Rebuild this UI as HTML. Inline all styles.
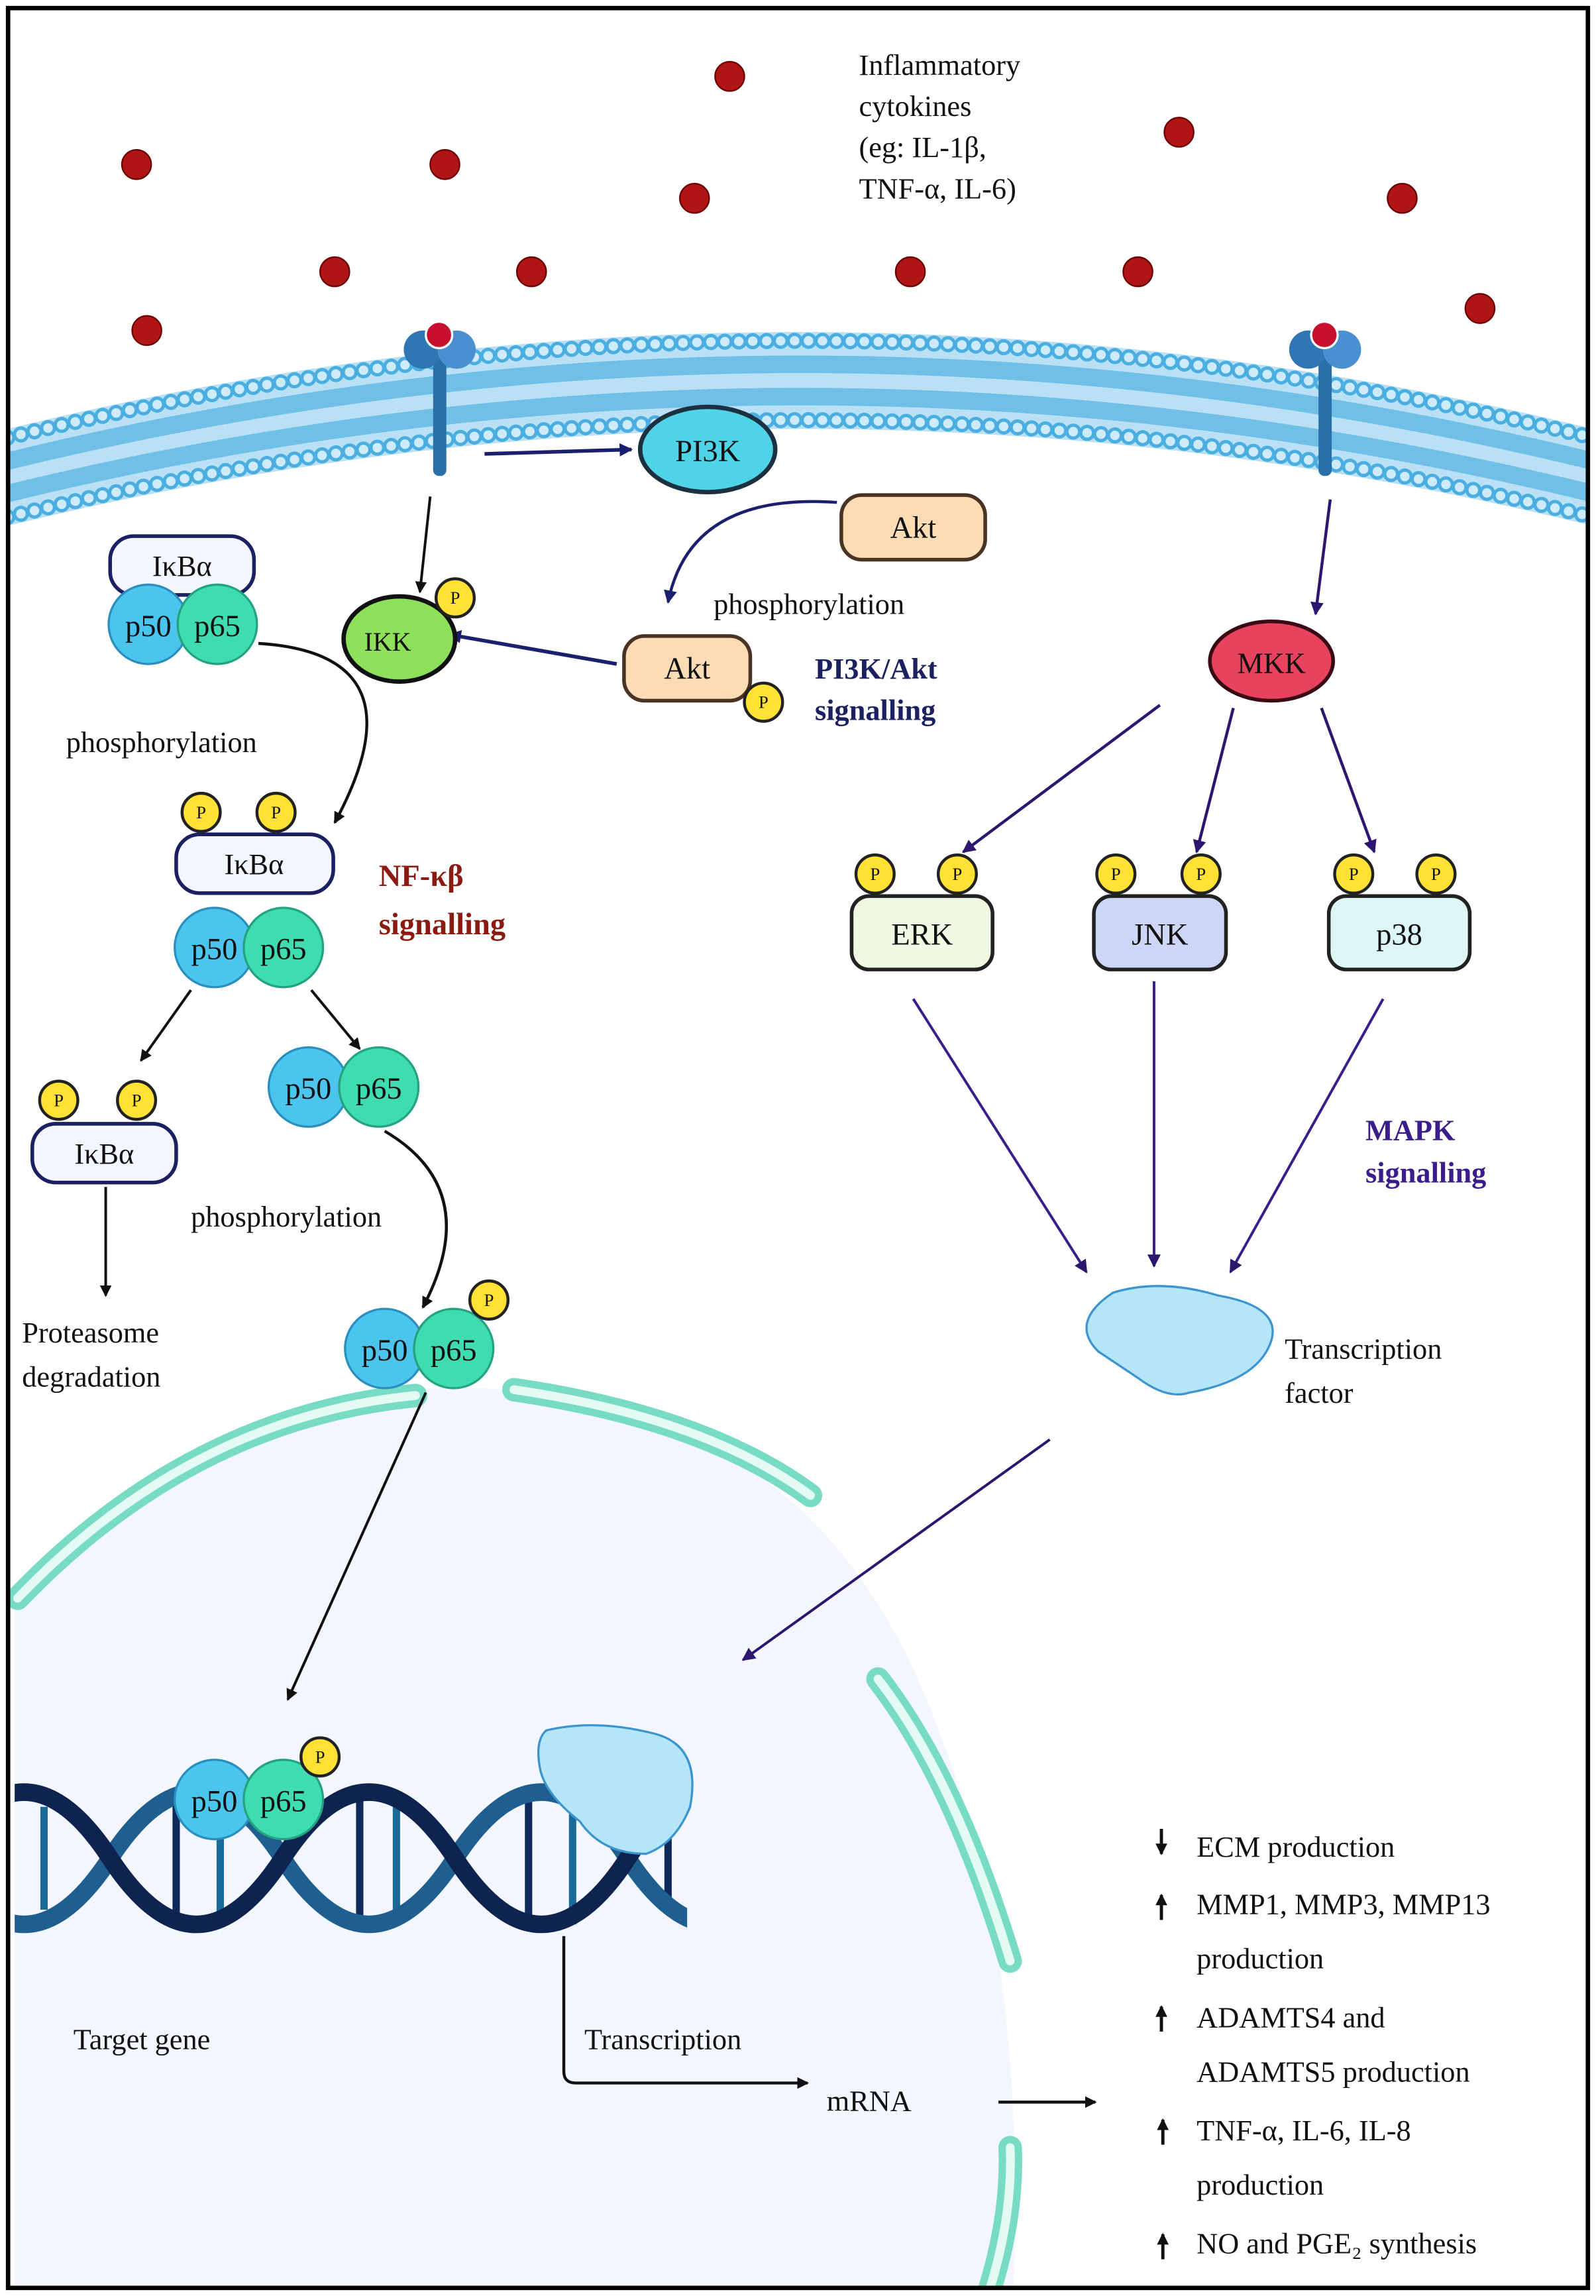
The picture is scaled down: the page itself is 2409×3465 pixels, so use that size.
<!DOCTYPE html>
<html><head><meta charset="utf-8"><style>
html,body{margin:0;padding:0;background:#fff;}
svg{display:block;}
text{font-family:"Liberation Serif",serif;fill:#111;}
</style></head><body>
<svg width="2409" height="3465" viewBox="0 0 1087 1563" preserveAspectRatio="none" xmlns="http://www.w3.org/2000/svg">
<defs>
<marker id="ak" markerWidth="8" markerHeight="8" refX="7" refY="4" orient="auto" markerUnits="userSpaceOnUse"><path d="M0,0 L8,4 L0,8 z" fill="#111"/></marker>
<marker id="an" markerWidth="9" markerHeight="9" refX="8" refY="4.5" orient="auto" markerUnits="userSpaceOnUse"><path d="M0,0 L9,4.5 L0,9 z" fill="#1a1f6e"/></marker>
<marker id="ap" markerWidth="9" markerHeight="9" refX="8" refY="4.5" orient="auto" markerUnits="userSpaceOnUse"><path d="M0,0 L9,4.5 L0,9 z" fill="#2c1670"/></marker>
<clipPath id="dnaclip"><rect x="10" y="1180" width="458" height="150"/></clipPath>
<clipPath id="frame"><rect x="7" y="7" width="1073" height="1549"/></clipPath>
</defs>
<rect x="0" y="0" width="1087" height="1563" fill="#fff"/>
<g clip-path="url(#frame)">
<path d="M10,1090 Q150,940 330,945 Q560,955 640,1180 Q700,1330 690,1563 L10,1563 z" fill="#f3f7fd"/>
<g fill="none" stroke-linecap="round">
<path d="M12,1088 Q130,965 283,950" stroke="#78dcc4" stroke-width="16"/>
<path d="M12,1088 Q130,965 283,950" stroke="#e4faf5" stroke-width="6"/>
<path d="M350,946 Q480,965 552,1018" stroke="#78dcc4" stroke-width="16"/>
<path d="M350,946 Q480,965 552,1018" stroke="#e4faf5" stroke-width="6"/>
<path d="M598,1143 Q650,1210 688,1335" stroke="#78dcc4" stroke-width="16"/>
<path d="M598,1143 Q650,1210 688,1335" stroke="#e4faf5" stroke-width="6"/>
<path d="M688,1462 Q690,1510 672,1565" stroke="#78dcc4" stroke-width="16"/>
<path d="M688,1462 Q690,1510 672,1565" stroke="#e4faf5" stroke-width="6"/>
</g>
<!-- membrane -->
<path d="M5,292 Q545,160 1085,292 L1085,358 Q545,226 5,358 z" fill="#b9e0f5"/>
<g fill="none" stroke-linecap="round">
<path d="M5,314 Q545,182 1085,314" stroke="#6fbfe6" stroke-width="12" stroke-dasharray="1.2 2.6"/>
<path d="M5,336 Q545,204 1085,336" stroke="#6fbfe6" stroke-width="12" stroke-dasharray="1.2 2.6"/>
<path d="M5,298 Q545,166 1085,298" stroke="#4aaee0" stroke-width="11" stroke-dasharray="0 9.5"/>
<path d="M5,298 Q545,166 1085,298" stroke="#cdebfa" stroke-width="6.5" stroke-dasharray="0 9.5"/>
<path d="M5,352 Q545,220 1085,352" stroke="#4aaee0" stroke-width="11" stroke-dasharray="0 9.5"/>
<path d="M5,352 Q545,220 1085,352" stroke="#cdebfa" stroke-width="6.5" stroke-dasharray="0 9.5"/>
</g>
<g fill="#b01515" stroke="#6a0000" stroke-width="1">
<circle cx="497" cy="52" r="10"/><circle cx="93" cy="112" r="10"/><circle cx="303" cy="112" r="10"/>
<circle cx="803" cy="90" r="10"/><circle cx="473" cy="135" r="10"/><circle cx="955" cy="135" r="10"/>
<circle cx="228" cy="185" r="10"/><circle cx="362" cy="185" r="10"/><circle cx="620" cy="185" r="10"/>
<circle cx="775" cy="185" r="10"/><circle cx="1008" cy="210" r="10"/><circle cx="100" cy="225" r="10"/>
</g>
<g font-size="20">
<text x="585" y="51">Inflammatory</text><text x="585" y="79">cytokines</text>
<text x="585" y="107">(eg: IL-1β,</text><text x="585" y="135">TNF-α, IL-6)</text>
</g>
<g>
<rect x="295" y="240" width="9" height="84" rx="4" fill="#2a6fa8"/>
<ellipse cx="288" cy="238" rx="13" ry="13" fill="#2f76b5"/><ellipse cx="311" cy="238" rx="13" ry="13" fill="#4a8fd0"/>
<circle cx="299" cy="228" r="9" fill="#c8102e" stroke="#fff" stroke-width="1.5"/>
<rect x="898" y="240" width="9" height="84" rx="4" fill="#2a6fa8"/>
<ellipse cx="891" cy="238" rx="13" ry="13" fill="#2f76b5"/><ellipse cx="914" cy="238" rx="13" ry="13" fill="#4a8fd0"/>
<circle cx="902" cy="228" r="9" fill="#c8102e" stroke="#fff" stroke-width="1.5"/>
</g>
<line x1="330" y1="309" x2="430" y2="306" stroke="#1a1f6e" stroke-width="2.5" marker-end="url(#an)"/>
<ellipse cx="482" cy="306" rx="46" ry="29" fill="#4fd3e6" stroke="#1b3040" stroke-width="3"/>
<text x="482" y="314" font-size="21" text-anchor="middle">PI3K</text>
<rect x="573" y="337" width="98" height="44" rx="14" fill="#fbdcb5" stroke="#4a3322" stroke-width="2.5"/>
<text x="622" y="366" font-size="21" text-anchor="middle">Akt</text>
<path d="M570,342 Q470,335 455,410" fill="none" stroke="#1a1f6e" stroke-width="2" marker-end="url(#an)"/>
<text x="486" y="418" font-size="20">phosphorylation</text>
<rect x="425" y="433" width="86" height="44" rx="14" fill="#fbdcb5" stroke="#4a3322" stroke-width="2.5"/>
<text x="468" y="462" font-size="21" text-anchor="middle">Akt</text>
<line x1="420" y1="452" x2="306" y2="432" stroke="#1a1f6e" stroke-width="2.5" marker-end="url(#an)"/>
<g font-size="20" font-weight="bold"><text x="555" y="462" style="fill:#1a2060">PI3K/Akt</text><text x="555" y="490" style="fill:#1a2060">signalling</text></g>
<line x1="293" y1="338" x2="286" y2="403" stroke="#111" stroke-width="1.8" marker-end="url(#ak)"/>
<ellipse cx="272" cy="435" rx="38" ry="29" fill="#8ee05a" stroke="#111" stroke-width="3"/>
<text x="264" y="443" font-size="18" text-anchor="middle">IKK</text>
<rect x="75" y="365" width="98" height="40" rx="16" fill="#f4f6ff" stroke="#1a2060" stroke-width="2.5"/>
<text x="124" y="392" font-size="20" text-anchor="middle">IκBα</text>
<circle cx="101" cy="425" r="27" fill="#4cc5ee" stroke="#2a8fbf" stroke-width="1.5"/>
<circle cx="148" cy="425" r="27" fill="#3fdcb0" stroke="#23a380" stroke-width="1.5"/>
<text x="101" y="433" font-size="21" text-anchor="middle">p50</text><text x="148" y="433" font-size="21" text-anchor="middle">p65</text>
<text x="45" y="512" font-size="20">phosphorylation</text>
<path d="M176,438 Q290,445 228,560" fill="none" stroke="#111" stroke-width="2" marker-end="url(#ak)"/>
<rect x="120" y="568" width="107" height="40" rx="16" fill="#f4f6ff" stroke="#1a2060" stroke-width="2.5"/>
<text x="173" y="595" font-size="20" text-anchor="middle">IκBα</text>
<circle cx="146" cy="645" r="27" fill="#4cc5ee" stroke="#2a8fbf" stroke-width="1.5"/>
<circle cx="193" cy="645" r="27" fill="#3fdcb0" stroke="#23a380" stroke-width="1.5"/>
<text x="146" y="653" font-size="21" text-anchor="middle">p50</text><text x="193" y="653" font-size="21" text-anchor="middle">p65</text>
<g font-size="21" font-weight="bold"><text x="258" y="603" style="fill:#8b1a10">NF-κβ</text><text x="258" y="636" style="fill:#8b1a10">signalling</text></g>
<line x1="130" y1="674" x2="96" y2="722" stroke="#111" stroke-width="1.8" marker-end="url(#ak)"/>
<line x1="212" y1="674" x2="245" y2="714" stroke="#111" stroke-width="1.8" marker-end="url(#ak)"/>
<rect x="22" y="765" width="98" height="40" rx="16" fill="#f4f6ff" stroke="#1a2060" stroke-width="2.5"/>
<text x="71" y="792" font-size="20" text-anchor="middle">IκBα</text>
<line x1="72" y1="808" x2="72" y2="882" stroke="#111" stroke-width="1.8" marker-end="url(#ak)"/>
<text x="15" y="914" font-size="20">Proteasome</text><text x="15" y="944" font-size="20">degradation</text>
<circle cx="210" cy="740" r="27" fill="#4cc5ee" stroke="#2a8fbf" stroke-width="1.5"/>
<circle cx="258" cy="740" r="27" fill="#3fdcb0" stroke="#23a380" stroke-width="1.5"/>
<text x="210" y="748" font-size="21" text-anchor="middle">p50</text><text x="258" y="748" font-size="21" text-anchor="middle">p65</text>
<text x="130" y="835" font-size="20">phosphorylation</text>
<path d="M262,770 Q330,810 288,890" fill="none" stroke="#111" stroke-width="2" marker-end="url(#ak)"/>
<circle cx="262" cy="918" r="27" fill="#4cc5ee" stroke="#2a8fbf" stroke-width="1.5"/>
<circle cx="309" cy="918" r="27" fill="#3fdcb0" stroke="#23a380" stroke-width="1.5"/>
<text x="262" y="926" font-size="21" text-anchor="middle">p50</text><text x="309" y="926" font-size="21" text-anchor="middle">p65</text>
<line x1="290" y1="948" x2="196" y2="1157" stroke="#111" stroke-width="1.8" marker-end="url(#ak)"/>
<line x1="906" y1="340" x2="896" y2="418" stroke="#2c1670" stroke-width="2" marker-end="url(#ap)"/>
<ellipse cx="866" cy="450" rx="42" ry="27" fill="#e8435e" stroke="#3a0a14" stroke-width="2.5"/>
<text x="866" y="458" font-size="20" text-anchor="middle">MKK</text>
<line x1="790" y1="480" x2="656" y2="580" stroke="#2c1670" stroke-width="2" marker-end="url(#ap)"/>
<line x1="840" y1="482" x2="815" y2="580" stroke="#2c1670" stroke-width="2" marker-end="url(#ap)"/>
<line x1="900" y1="482" x2="936" y2="580" stroke="#2c1670" stroke-width="2" marker-end="url(#ap)"/>
<rect x="580" y="610" width="96" height="50" rx="12" fill="#eef8e2" stroke="#222" stroke-width="2.5"/>
<text x="628" y="643" font-size="21" text-anchor="middle">ERK</text>
<rect x="745" y="610" width="90" height="50" rx="12" fill="#cdd6f5" stroke="#222" stroke-width="2.5"/>
<text x="790" y="643" font-size="21" text-anchor="middle">JNK</text>
<rect x="905" y="610" width="96" height="50" rx="12" fill="#dcf7f6" stroke="#222" stroke-width="2.5"/>
<text x="953" y="643" font-size="21" text-anchor="middle">p38</text>
<line x1="622" y1="680" x2="740" y2="866" stroke="#3a1d8a" stroke-width="1.8" marker-end="url(#ap)"/>
<line x1="786" y1="668" x2="786" y2="862" stroke="#3a1d8a" stroke-width="1.8" marker-end="url(#ap)"/>
<line x1="942" y1="680" x2="838" y2="866" stroke="#3a1d8a" stroke-width="1.8" marker-end="url(#ap)"/>
<g font-size="20" font-weight="bold"><text x="930" y="776" style="fill:#3a1d8a">MAPK</text><text x="930" y="805" style="fill:#3a1d8a">signalling</text></g>
<path d="M758,880 Q790,870 830,882 Q875,890 865,915 Q855,940 810,948 Q795,953 775,938 Q760,928 748,920 Q728,900 758,880 z" fill="#b5e6f8" stroke="#3d95cf" stroke-width="1.5"/>
<g font-size="20"><text x="875" y="925">Transcription</text><text x="875" y="955">factor</text></g>
<line x1="715" y1="980" x2="506" y2="1130" stroke="#2c1670" stroke-width="1.8" marker-end="url(#ap)"/>
<g clip-path="url(#dnaclip)">
<g stroke-width="5">
<line x1="30" y1="1230" x2="30" y2="1300" stroke="#1a6b9a"/><line x1="120" y1="1220" x2="120" y2="1310" stroke="#0f2a5a"/>
<line x1="150" y1="1220" x2="150" y2="1310" stroke="#1a6b9a"/><line x1="245" y1="1225" x2="245" y2="1305" stroke="#0f2a5a"/>
<line x1="270" y1="1225" x2="270" y2="1305" stroke="#1a6b9a"/><line x1="360" y1="1220" x2="360" y2="1310" stroke="#0f2a5a"/>
<line x1="390" y1="1220" x2="390" y2="1310" stroke="#1a6b9a"/><line x1="455" y1="1230" x2="455" y2="1300" stroke="#0f2a5a"/>
</g>
<path d="M-42.5,1265 Q16.25,1355 75,1265 T192.5,1265 T310,1265 T427.5,1265 T545,1265" fill="none" stroke="#1f5f8f" stroke-width="12"/>
<path d="M-42.5,1265 Q16.25,1175 75,1265 T192.5,1265 T310,1265 T427.5,1265 T545,1265" fill="none" stroke="#0e2350" stroke-width="12"/>
</g>
<path d="M372,1178 Q405,1170 445,1180 Q478,1188 470,1230 Q460,1255 440,1262 Q410,1262 395,1240 Q372,1222 368,1205 Q364,1185 372,1178 z" fill="#b5e6f8" stroke="#3d95cf" stroke-width="1.5"/>
<circle cx="146" cy="1225" r="27" fill="#4cc5ee" stroke="#2a8fbf" stroke-width="1.5"/>
<circle cx="193" cy="1225" r="27" fill="#3fdcb0" stroke="#23a380" stroke-width="1.5"/>
<text x="146" y="1233" font-size="21" text-anchor="middle">p50</text><text x="193" y="1233" font-size="21" text-anchor="middle">p65</text>
<text x="50" y="1395" font-size="20">Target gene</text>
<path d="M384,1318 L384,1410 Q384,1418 392,1418 L550,1418" fill="none" stroke="#111" stroke-width="2" marker-end="url(#ak)"/>
<text x="398" y="1395" font-size="20">Transcription</text>
<text x="563" y="1437" font-size="20">mRNA</text>
<line x1="680" y1="1431" x2="746" y2="1431" stroke="#111" stroke-width="2" marker-end="url(#ak)"/>
<g stroke="#111" stroke-width="2.2">
<line x1="791" y1="1245" x2="791" y2="1262" marker-end="url(#ak)"/>
<line x1="791" y1="1307" x2="791" y2="1290" marker-end="url(#ak)"/>
<line x1="791" y1="1383" x2="791" y2="1366" marker-end="url(#ak)"/>
<line x1="792" y1="1460" x2="792" y2="1443" marker-end="url(#ak)"/>
<line x1="792" y1="1538" x2="792" y2="1521" marker-end="url(#ak)"/>
</g>
<g font-size="20">
<text x="815" y="1264">ECM production</text>
<text x="815" y="1303">MMP1, MMP3, MMP13</text>
<text x="815" y="1340">production</text>
<text x="815" y="1380">ADAMTS4 and</text>
<text x="815" y="1417">ADAMTS5 production</text>
<text x="815" y="1457">TNF-α, IL-6, IL-8</text>
<text x="815" y="1494">production</text>
<text x="815" y="1534">NO and PGE₂ synthesis</text>
</g>
<g fill="#ffe234" stroke="#222" stroke-width="2">
<circle cx="310" cy="407" r="13"/><circle cx="520" cy="478" r="13"/>
<circle cx="137" cy="553" r="13"/><circle cx="188" cy="553" r="13"/>
<circle cx="40" cy="749" r="13"/><circle cx="93" cy="749" r="13"/>
<circle cx="333" cy="885" r="13"/><circle cx="218" cy="1196" r="13"/>
<circle cx="596" cy="595" r="13"/><circle cx="652" cy="595" r="13"/>
<circle cx="760" cy="595" r="13"/><circle cx="818" cy="595" r="13"/>
<circle cx="922" cy="595" r="13"/><circle cx="978" cy="595" r="13"/>
</g>
<g font-size="12" text-anchor="middle" style="font-family:'Liberation Sans',sans-serif">
<text x="310" y="411">P</text><text x="520" y="482">P</text>
<text x="137" y="557">P</text><text x="188" y="557">P</text>
<text x="40" y="753">P</text><text x="93" y="753">P</text>
<text x="333" y="889">P</text><text x="218" y="1200">P</text>
<text x="596" y="599">P</text><text x="652" y="599">P</text>
<text x="760" y="599">P</text><text x="818" y="599">P</text>
<text x="922" y="599">P</text><text x="978" y="599">P</text>
</g>
</g>
<rect x="5.5" y="5.5" width="1076" height="1552" fill="none" stroke="#000" stroke-width="3"/>
</svg>
</body></html>
